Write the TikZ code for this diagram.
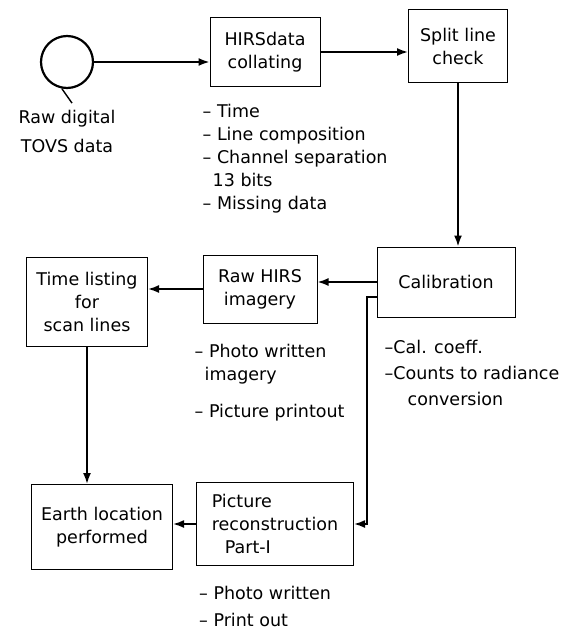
\documentclass[tikz,border=0pt]{standalone}
\usepackage{fontspec}
\setmainfont{DejaVu Sans}
\usetikzlibrary{arrows,arrows.meta,positioning}

\begin{document}
\begin{tikzpicture}[x=1pt,y=-1pt,
        every node/.style={font=\fontsize{17.5}{23}\selectfont},
        box/.style={draw,line width=1pt,align=center,inner sep=2pt},
        note/.style={align=left,inner sep=0pt},
        flow/.style={-{Latex[length=11pt,width=8pt]},line width=1.8pt}]
        \useasboundingbox (0,0) rectangle (584,634);
        \node[draw,line width=2.2pt,circle,minimum size=52pt] (rawsrc) at (67,62) {};
        \node[below=21pt of rawsrc,align=center,inner sep=0pt] (rawlabel) {Raw digital\\[6pt]TOVS data};
        \node[box,minimum width=110pt,minimum height=69pt] (hirs) at (265,52) {HIRSdata\\collating};
        \node[box,minimum width=99pt,minimum height=72pt] (split) at (458,46) {Split line\\check};
        \node[box,minimum width=138pt,minimum height=70pt] (calib) at (446,282) {Calibration};
        \node[box,minimum width=114pt,minimum height=68pt] (raw) at (260,289) {Raw HIRS\\imagery};
        \node[box,minimum width=121pt,minimum height=89pt] (timelist) at (87,302) {Time listing\\for\\scan lines};
        \node[box,minimum width=141pt,minimum height=85pt] (earth) at (102,527) {Earth location\\performed};
        \node[box,align=left,minimum width=157pt,minimum height=83pt] (picrec) at (275,524) {Picture\\reconstruction\\\hspace*{13pt}Part-I};
        % notes under the boxes
        \node[note,below right=17pt and -7pt of hirs.south west] (hirsnotes) {– Time\\– Line composition\\– Channel separation\\\hspace*{10pt}13 bits\\– Missing data};
        \node[note,below right=20.5pt and -8pt of raw.south west] (rawnotes) {– Photo written\\\hspace*{10pt}imagery\\[14pt]– Picture printout};
        \node[note,below right=22.5pt and 8pt of calib.south west,
              font=\fontsize{17.5}{26}\selectfont] (calnotes) {–Cal. coeff.\\–Counts to radiance\\\hspace*{23pt}conversion};
        \node[note,below right=19.5pt and 3pt of picrec.south west,
              font=\fontsize{17.5}{27}\selectfont] (picnotes) {– Photo written\\– Print out};
        \draw[line width=1.4pt] (rawsrc.259) -- ([xshift=5pt,yshift=7pt]rawlabel.north);
        \draw[flow] (rawsrc.east) -- (rawsrc.east -| hirs.west);
        \draw[flow] (hirs.east) -- (hirs.east -| split.west);
        \draw[flow] (split.south) -- (split.south |- calib.north);
        \draw[flow] (calib.west) -- (calib.west -| raw.east);
        \draw[flow] (raw.west) -- (raw.west -| timelist.east);
        \draw[flow] (timelist.south) -- (timelist.south |- earth.north);
        \draw[flow] (picrec.west) -- (picrec.west -| earth.east);
        \draw[flow] ([yshift=-15pt]calib.west) -| ([xshift=13pt]picrec.east) -- (picrec.east);
\end{tikzpicture}
\end{document}
